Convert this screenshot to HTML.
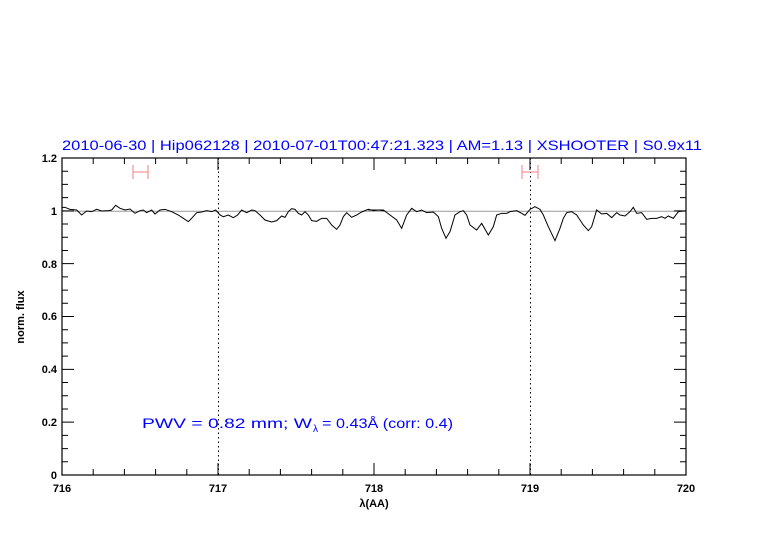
<!DOCTYPE html>
<html><head><style>body{margin:0;background:#fff}svg{display:block}</style></head><body>
<svg width="782" height="542" viewBox="0 0 782 542" xmlns="http://www.w3.org/2000/svg" font-family="Liberation Sans, sans-serif">
<rect width="782" height="542" fill="#fff"/>
<text x="62" y="150" font-size="14" fill="#0000ff" textLength="640" lengthAdjust="spacingAndGlyphs">2010-06-30 | Hip062128 | 2010-07-01T00:47:21.323 | AM=1.13 | XSHOOTER | S0.9x11</text>
<defs><clipPath id="c"><rect x="62" y="158" width="624" height="317"/></clipPath></defs>
<line x1="218.5" y1="158" x2="218.5" y2="475" stroke="#000" stroke-dasharray="1.5,3" stroke-width="1"/>
<line x1="530.5" y1="158" x2="530.5" y2="475" stroke="#000" stroke-dasharray="1.5,3" stroke-width="1"/>
<line x1="62" y1="211.3" x2="686" y2="211.3" stroke="#999" stroke-width="1"/>
<g clip-path="url(#c)">
<g transform="translate(55,150) scale(0.33333)">
<polyline fill="none" stroke="#000" stroke-width="1" vector-effect="non-scaling-stroke" points="21,172 30,172 45,178 65,180 80,195 95,183 110,185 125,178 140,183 160,182 170,180 182,166 195,175 210,180 225,177 240,190 255,182 265,180 275,188 290,180 300,192 315,180 330,178 350,185 370,195 385,205 400,215 410,205 425,188 440,186 455,182 470,185 482,180 495,195 505,200 520,195 535,203 548,195 560,180 575,188 590,180 600,182 615,195 630,210 650,216 665,212 680,198 690,202 700,185 710,176 720,178 730,190 740,195 750,185 760,195 770,212 785,214 800,205 815,205 830,225 845,238 855,225 865,200 875,188 890,202 905,195 920,186 940,178 955,182 970,180 990,183"/>
</g>
<g transform="translate(370,150) scale(0.33333)">
<polyline fill="none" stroke="#000" stroke-width="1" vector-effect="non-scaling-stroke" points="-5,180 20,180 40,180 60,195 80,210 95,235 110,195 125,175 140,185 155,180 170,188 190,186 205,200 215,235 228,265 240,245 255,195 270,185 280,182 290,195 300,225 320,240 335,220 355,255 370,230 380,195 395,190 410,190 420,185 440,182 455,190 465,196 480,178 495,170 510,178 520,195 535,230 555,272 570,235 580,205 590,188 605,185 620,195 640,225 655,242 665,230 680,180 695,192 710,190 725,203 740,188 750,195 765,198 780,185 790,172 800,190 815,188 830,208 845,205 860,205 875,200 885,205 895,198 910,205 925,185 940,183 950,183"/>
</g>
</g>
<g stroke="#f08080" stroke-width="1" fill="none">
<line x1="133" y1="172" x2="148" y2="172"/><line x1="133" y1="165" x2="133" y2="179"/><line x1="148" y1="165" x2="148" y2="179"/>
<line x1="522" y1="172" x2="538" y2="172"/><line x1="522" y1="165" x2="522" y2="179"/><line x1="538" y1="165" x2="538" y2="179"/>
</g>
<rect x="62" y="158" width="624" height="317" fill="none" stroke="#000" stroke-width="1.2"/>
<path stroke="#000" stroke-width="1" fill="none" d="
M93.2 475v-6M124.4 475v-6M155.6 475v-6M186.8 475v-6M218 475v-12M249.2 475v-6M280.4 475v-6M311.6 475v-6M342.8 475v-6M374 475v-12M405.2 475v-6M436.4 475v-6M467.6 475v-6M498.8 475v-6M530 475v-12M561.2 475v-6M592.4 475v-6M623.6 475v-6M654.8 475v-6
M93.2 158v6M124.4 158v6M155.6 158v6M186.8 158v6M218 158v12M249.2 158v6M280.4 158v6M311.6 158v6M342.8 158v6M374 158v12M405.2 158v6M436.4 158v6M467.6 158v6M498.8 158v6M530 158v12M561.2 158v6M592.4 158v6M623.6 158v6M654.8 158v6
M62 461.79h6M62 448.58h6M62 435.38h6M62 422.17h12M62 408.96h6M62 395.75h6M62 382.54h6M62 369.34h12M62 356.13h6M62 342.92h6M62 329.71h6M62 316.5h12M62 303.3h6M62 290.09h6M62 276.88h6M62 263.67h12M62 250.46h6M62 237.26h6M62 224.05h6M62 210.84h12M62 197.63h6M62 184.42h6M62 171.22h6
M686 461.79h-6M686 448.58h-6M686 435.38h-6M686 422.17h-12M686 408.96h-6M686 395.75h-6M686 382.54h-6M686 369.34h-12M686 356.13h-6M686 342.92h-6M686 329.71h-6M686 316.5h-12M686 303.3h-6M686 290.09h-6M686 276.88h-6M686 263.67h-12M686 250.46h-6M686 237.26h-6M686 224.05h-6M686 210.84h-12M686 197.63h-6M686 184.42h-6M686 171.22h-6"/>
<g font-size="11" font-weight="bold" fill="#000" text-anchor="middle">
<text x="62" y="492">716</text><text x="218" y="492">717</text><text x="374" y="492">718</text><text x="530" y="492">719</text><text x="686" y="492">720</text>
</g>
<g font-size="11" font-weight="bold" fill="#000" text-anchor="end">
<text x="57" y="479">0</text><text x="57" y="426">0.2</text><text x="57" y="373">0.4</text><text x="57" y="320">0.6</text><text x="57" y="268">0.8</text><text x="57" y="215">1</text><text x="57" y="162">1.2</text>
</g>
<text x="374" y="507" font-size="11" font-weight="bold" text-anchor="middle">λ(AA)</text>
<text transform="translate(24,317) rotate(-90)" font-size="11" font-weight="bold" text-anchor="middle">norm. flux</text>
<text x="142" y="428" font-size="14" fill="#0000ff" textLength="170" lengthAdjust="spacingAndGlyphs">PWV = 0.82 mm; W</text>
<text x="313" y="432" font-size="10" fill="#0000ff">λ</text>
<text x="322" y="428" font-size="14" fill="#0000ff" textLength="131" lengthAdjust="spacingAndGlyphs">= 0.43Å (corr: 0.4)</text>
</svg>
</body></html>
